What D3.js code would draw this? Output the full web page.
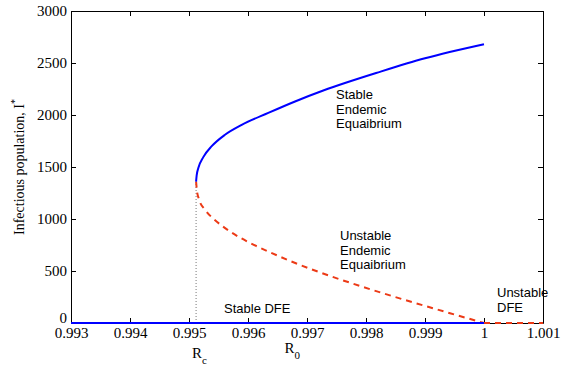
<!DOCTYPE html>
<html>
<head>
<meta charset="utf-8">
<script src="https://cdn.jsdelivr.net/npm/d3@7"></script>
<style>
  body { margin: 0; background: #fff; }
  svg { display: block; }
  .axis text { font-family: "Liberation Serif", "Times New Roman", serif; font-size: 15px; fill: #000; }
</style>
</head>
<body>
<svg id="chart"></svg>
<script>
// values
const xTicks = [0.993, 0.994, 0.995, 0.996, 0.997, 0.998, 0.999, 1, 1.001];
const yTicks = [0, 500, 1000, 1500, 2000, 2500, 3000];

const Rc = 0.99512;
const foldI = 1360;

// stable endemic branch (solid blue)
const stableR = [Rc, 0.99513, 0.995158, 0.995242, 0.995385, 0.99561, 0.995893, 0.996344, 0.996797, 0.997276, 0.998237, 0.999, 1.0];
const stableI = [foldI, 1420, 1490, 1595, 1700, 1810, 1905, 2020, 2130, 2235, 2415, 2545, 2680];

// unstable endemic branch (dashed red)
const unstableR = [Rc, 0.995135, 0.995169, 0.995271, 0.995407, 0.995559, 0.995695, 0.996034, 0.996373, 0.996712, 0.997051, 0.99739, 0.99778, 0.998293, 0.998859, 0.999424, 1.0];
const unstableI = [foldI, 1270, 1190, 1090, 1005, 935, 880, 770, 680, 597, 522, 452, 378, 285, 188, 94, 0];

// disease free equilibrium
const dfeStableR = [0.993, 1.0];
const dfeUnstableR = [1.0, 1.001];

const width = 561, height = 367;
const margin = { top: 11, right: 18, bottom: 44, left: 71 };

const svg = d3.select('#chart').attr('width', width).attr('height', height);

const x = d3.scaleLinear()
  .domain([0.993, 1.001])
  .range([margin.left, width - margin.right]);

const y = d3.scaleLinear()
  .domain([0, 3000])
  .range([height - margin.bottom, margin.top]);

const serif = '"Liberation Serif", "Times New Roman", serif';
const sans = '"Liberation Sans", Arial, sans-serif';

const line = d3.line()
  .x(d => x(d[0]))
  .y(d => y(d[1]))
  .curve(d3.curveMonotoneX);

// vertical dotted line at Rc
svg.append('line')
  .attr('x1', x(Rc)).attr('x2', x(Rc))
  .attr('y1', y(0)).attr('y2', y(foldI))
  .attr('stroke', '#777')
  .attr('stroke-width', 1)
  .attr('stroke-dasharray', '1,2');

svg.append('path')
  .datum(unstableR.map((r, i) => [r, unstableI[i]]))
  .attr('d', line)
  .attr('fill', 'none')
  .attr('stroke', '#ec3a16')
  .attr('stroke-width', 2)
  .attr('stroke-dasharray', '6,5');

svg.append('path')
  .datum(stableR.map((r, i) => [r, stableI[i]]))
  .attr('d', line)
  .attr('fill', 'none')
  .attr('stroke', '#0000ff')
  .attr('stroke-width', 2);

// axes box, ticks pointing inward
const xAxisB = d3.axisBottom(x).tickValues(xTicks).tickSizeInner(-5).tickSizeOuter(0)
  .tickFormat(d => String(+d.toFixed(3)));
const xAxisT = d3.axisTop(x).tickValues(xTicks).tickSizeInner(-5).tickSizeOuter(0).tickFormat('');
const yAxisL = d3.axisLeft(y).tickValues(yTicks).tickSizeInner(-5).tickSizeOuter(0)
  .tickPadding(4).tickFormat(d3.format('d'));
const yAxisR = d3.axisRight(y).tickValues(yTicks).tickSizeInner(-5).tickSizeOuter(0).tickFormat('');

function styleAxis(g) {
  g.attr('class', 'axis').attr('font-family', serif).attr('font-size', 15);
  g.selectAll('path.domain').attr('stroke', '#000').attr('stroke-width', 1);
  g.selectAll('.tick line').attr('stroke', '#000');
}

svg.append('g').attr('transform', `translate(0,${y(0)})`).call(xAxisB).call(styleAxis)
  .selectAll('text').attr('y', 15).attr('dy', 0);
svg.append('g').attr('transform', `translate(0,${y(3000)})`).call(xAxisT).call(styleAxis);
const gy = svg.append('g').attr('transform', `translate(${x(0.993)},0)`).call(yAxisL).call(styleAxis);
svg.append('g').attr('transform', `translate(${x(1.001)},0)`).call(yAxisR).call(styleAxis);

// "0" label sits a little above the axis, MATLAB style
gy.selectAll('.tick text').filter(d => d === 0).attr('dy', '-0.03em');

// DFE lines drawn over the bottom axis
svg.append('path')
  .datum(dfeStableR.map(r => [r, 0]))
  .attr('d', d3.line().x(d => x(d[0])).y(d => y(d[1])))
  .attr('stroke', '#0000ff')
  .attr('stroke-width', 2);

svg.append('path')
  .datum(dfeUnstableR.map(r => [r, 0]))
  .attr('d', d3.line().x(d => x(d[0])).y(d => y(d[1])))
  .attr('stroke', '#ec3a16')
  .attr('stroke-width', 2)
  .attr('stroke-dasharray', '6,5');

// y label
svg.append('text')
  .attr('transform', `translate(24,${(margin.top + height - margin.bottom) / 2}) rotate(-90)`)
  .attr('text-anchor', 'middle')
  .style('font-family', serif)
  .style('font-size', '14px')
  .html('Infectious population, I<tspan dy="-6" font-size="10">*</tspan>');

// x labels
const rc = svg.append('text')
  .attr('x', x(Rc) - 4).attr('y', 358)
  .style('font-family', serif).style('font-size', '15px');
rc.append('tspan').text('R');
rc.append('tspan').attr('dy', 6).attr('font-size', 11).text('c');

const r0 = svg.append('text')
  .attr('x', x(0.99662)).attr('y', 353)
  .style('font-family', serif).style('font-size', '15px');
r0.append('tspan').text('R');
r0.append('tspan').attr('dy', 6).attr('font-size', 11).text('0');

// annotations
function note(lines, px, py) {
  const t = svg.append('text').style('font-family', sans).style('font-size', '13px').attr('fill', '#000');
  lines.forEach((s, i) => {
    t.append('tspan').attr('x', px).attr('y', py + i * 14.5).text(s);
  });
}
note(['Stable', 'Endemic', 'Equaibrium'], 336, 99);
note(['Unstable', 'Endemic', 'Equaibrium'], 340, 240);
note(['Stable DFE'], 224, 313);
note(['Unstable', 'DFE'], 497, 297);
</script>
</body>
</html>
